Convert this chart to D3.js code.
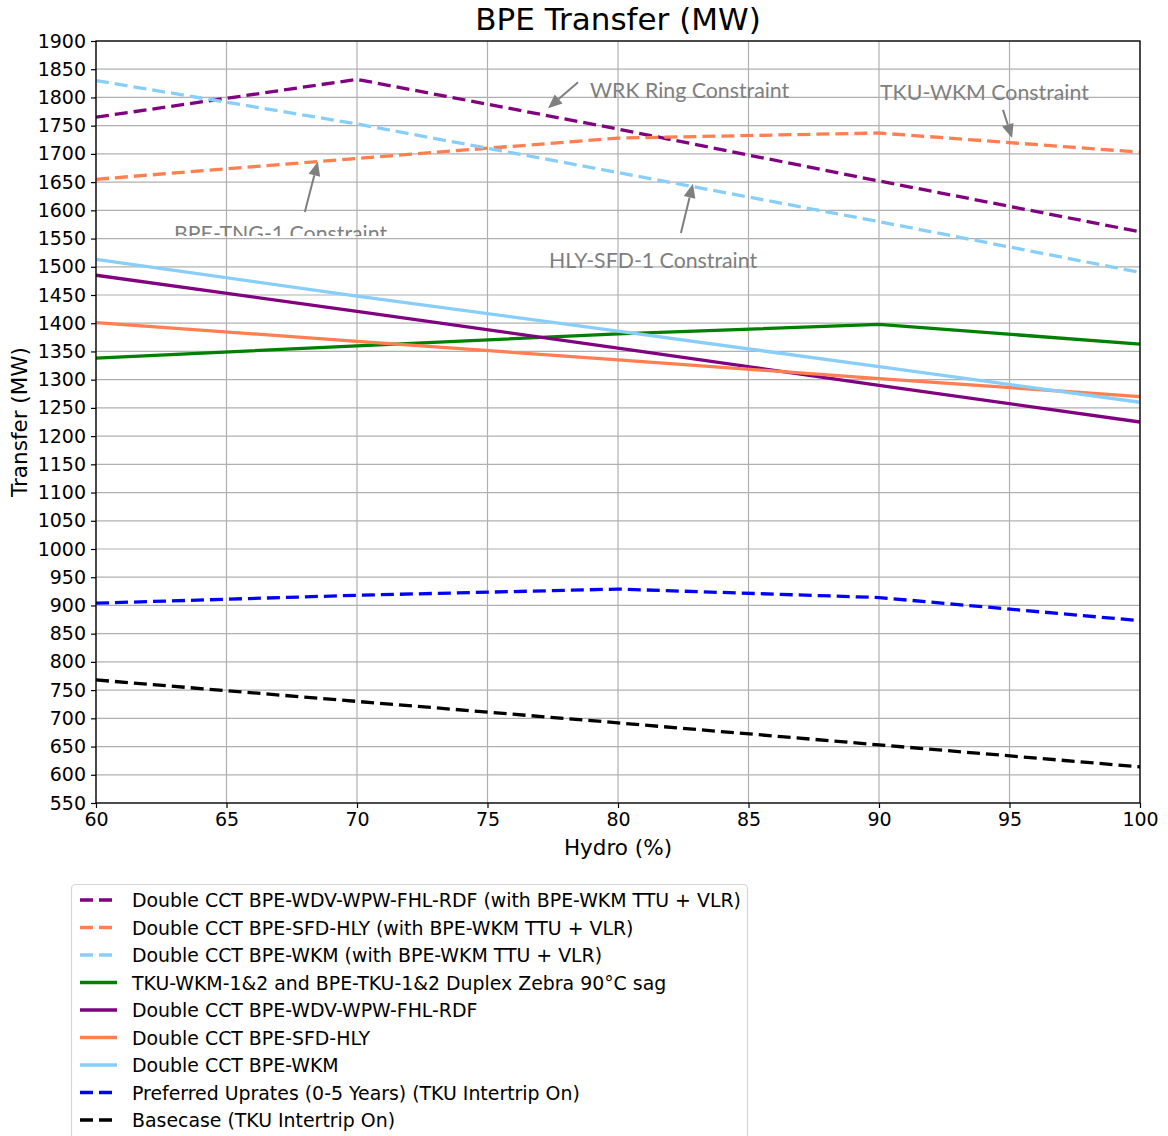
<!DOCTYPE html>
<html><head><meta charset="utf-8">
<script src="https://cdnjs.cloudflare.com/ajax/libs/d3/7.8.5/d3.min.js"></script>
<style>body{margin:0;background:#fff}svg{display:block}</style>
</head><body>
<script>
const hydro = [60, 70, 80, 90, 100];
const seriesNames = [
  "Double CCT BPE-WDV-WPW-FHL-RDF (with BPE-WKM TTU + VLR)",
  "Double CCT BPE-SFD-HLY (with BPE-WKM TTU + VLR)",
  "Double CCT BPE-WKM (with BPE-WKM TTU + VLR)",
  "TKU-WKM-1&2 and BPE-TKU-1&2 Duplex Zebra 90°C sag",
  "Double CCT BPE-WDV-WPW-FHL-RDF",
  "Double CCT BPE-SFD-HLY",
  "Double CCT BPE-WKM",
  "Preferred Uprates (0-5 Years) (TKU Intertrip On)",
  "Basecase (TKU Intertrip On)"
];
const wdvTTU = [1765, 1832, 1744, 1652, 1562];
const sfdTTU = [1655, 1692, 1728, 1737, 1703];
const wkmTTU = [1830, 1753, 1667, 1580, 1490];
const tkuZebra = [1338, 1360, 1381, 1398, 1363];
const wdv = [1485, 1421, 1356, 1290, 1225];
const sfd = [1401, 1368, 1335, 1302, 1270];
const wkm = [1513, 1448, 1386, 1323, 1260];
const preferred = [904, 918, 929, 914, 873];
const basecase = [768, 730, 692, 653, 614];
const seriesColors = ["#800080", "#FF7F50", "#87CEFA", "#008000", "#800080", "#FF7F50", "#87CEFA", "#0000FF", "#000000"];
const seriesDashed = [true, true, true, false, false, false, false, true, true];
const seriesValues = [wdvTTU, sfdTTU, wkmTTU, tkuZebra, wdv, sfd, wkm, preferred, basecase];
const xTicks = [60, 65, 70, 75, 80, 85, 90, 95, 100];
const yTicks = d3.range(550, 1901, 50);
const annoText = ["WRK Ring Constraint", "TKU-WKM Constraint", "BPE-TNG-1 Constraint", "HLY-SFD-1 Constraint"];
const annoTextPos = [[78.93, 1799], [90.04, 1795], [62.99, 1546], [77.36, 1498]];
const annoArrowFrom = [[78.47, 1827], [94.75, 1778], [68.0, 1597], [82.41, 1560]];
const annoArrowTo = [[77.32, 1781], [95.1, 1728], [68.5, 1686], [82.87, 1647]];

const W = 1168, H = 1136;
const m = {l: 96, r: 1140, t: 41, b: 803};
const svg = d3.select("body").append("svg").attr("width", W).attr("height", H);
const x = d3.scaleLinear().domain([60, 100]).range([m.l, m.r]);
const y = d3.scaleLinear().domain([550, 1900]).range([m.b, m.t]);
const font = "DejaVu Sans, sans-serif";

// grid
svg.append("g").selectAll("line.gx").data(xTicks).join("line")
  .attr("x1", d => x(d)).attr("x2", d => x(d)).attr("y1", m.t).attr("y2", m.b)
  .attr("stroke", "#b0b0b0").attr("stroke-width", 1.2);
svg.append("g").selectAll("line.gy").data(yTicks).join("line")
  .attr("x1", m.l).attr("x2", m.r).attr("y1", d => y(d)).attr("y2", d => y(d))
  .attr("stroke", "#b0b0b0").attr("stroke-width", 1.2);

// lines
const line = d3.line().x((d, i) => x(hydro[i])).y(d => y(d));
svg.append("defs").append("clipPath").attr("id", "plotclip").append("rect")
  .attr("x", m.l).attr("y", m.t).attr("width", m.r - m.l).attr("height", m.b - m.t);
const lg = svg.append("g").attr("clip-path", "url(#plotclip)");
seriesValues.forEach((vals, i) => {
  lg.append("path").attr("d", line(vals)).attr("fill", "none")
    .attr("stroke", seriesColors[i]).attr("stroke-width", 3.3)
    .attr("stroke-dasharray", seriesDashed[i] ? "13,6" : null);
});

// annotations
const grey = "#7f7f7f";
svg.select("defs").append("clipPath").attr("id", "tngclip").append("rect")
  .attr("x", 0).attr("y", 0).attr("width", W).attr("height", 236);
annoText.forEach((t, i) => {
  const tx = svg.append("text").attr("x", x(annoTextPos[i][0])).attr("y", y(annoTextPos[i][1]))
    .attr("font-family", "Lato, 'Open Sans', sans-serif").attr("font-size", 21.3)
    .attr("fill", grey).text(t);
  if (i === 2) tx.attr("clip-path", "url(#tngclip)");
  const x1 = x(annoArrowFrom[i][0]), y1 = y(annoArrowFrom[i][1]);
  const x2 = x(annoArrowTo[i][0]), y2 = y(annoArrowTo[i][1]);
  const ang = Math.atan2(y2 - y1, x2 - x1);
  const hl = 14, hw = 6;
  const bx = x2 - hl * Math.cos(ang), by = y2 - hl * Math.sin(ang);
  svg.append("line").attr("x1", x1).attr("y1", y1).attr("x2", bx).attr("y2", by)
    .attr("stroke", grey).attr("stroke-width", 2);
  const px = -Math.sin(ang), py = Math.cos(ang);
  svg.append("path").attr("d", `M${x2},${y2}L${bx + hw * px},${by + hw * py}L${bx - hw * px},${by - hw * py}Z`)
    .attr("fill", grey);
});

// axes
const xAxis = d3.axisBottom(x).tickValues(xTicks).tickFormat(d3.format("d")).tickSize(5).tickPadding(5);
const yAxis = d3.axisLeft(y).tickValues(yTicks).tickFormat(d3.format("d")).tickSize(5).tickPadding(5);
const gx = svg.append("g").attr("transform", `translate(0,${m.b})`).call(xAxis);
const gy = svg.append("g").attr("transform", `translate(${m.l},0)`).call(yAxis);
[gx, gy].forEach(g => {
  g.select(".domain").remove();
  g.selectAll("text").attr("font-family", font).attr("font-size", 19).attr("fill", "#000");
  g.selectAll("line").attr("stroke", "#000").attr("stroke-width", 1.2);
});
svg.append("rect").attr("x", m.l).attr("y", m.t).attr("width", m.r - m.l).attr("height", m.b - m.t)
  .attr("fill", "none").attr("stroke", "#000").attr("stroke-width", 1.3);

// labels
svg.append("text").attr("x", 618).attr("y", 30).attr("text-anchor", "middle")
  .attr("font-family", font).attr("font-size", 31).text("BPE Transfer (MW)");
svg.append("text").attr("x", 618).attr("y", 855).attr("text-anchor", "middle")
  .attr("font-family", font).attr("font-size", 21.5).text("Hydro (%)");
svg.append("text").attr("transform", `translate(27,${(m.t + m.b) / 2}) rotate(-90)`).attr("text-anchor", "middle")
  .attr("font-family", font).attr("font-size", 21.5).text("Transfer (MW)");

// legend
const leg = svg.append("g");
leg.append("rect").attr("x", 71.5).attr("y", 884.5).attr("width", 676).attr("height", 270).attr("rx", 4)
  .attr("fill", "#fff").attr("stroke", "#d6d6d6").attr("stroke-width", 1.2);
seriesNames.forEach((n, i) => {
  const cy = 900 + i * 27.5;
  leg.append("line").attr("x1", 80).attr("x2", 117).attr("y1", cy).attr("y2", cy)
    .attr("stroke", seriesColors[i]).attr("stroke-width", 3.3)
    .attr("stroke-dasharray", seriesDashed[i] ? "13,6" : null);
  leg.append("text").attr("x", 132).attr("y", cy + 7).attr("font-family", font).attr("font-size", 18.9).text(n);
});
</script>
</body></html>
